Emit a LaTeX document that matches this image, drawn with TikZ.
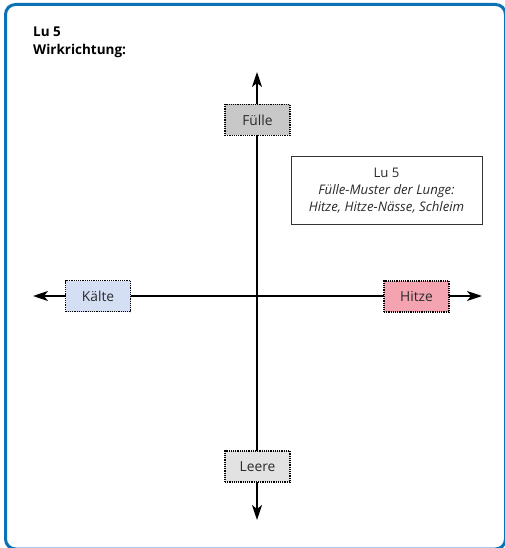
\documentclass[tikz,border=0pt]{standalone}
\usepackage{fontspec}
\setmainfont{Open Sans}
\usepackage{xcolor}
\usetikzlibrary{arrows.meta}
\definecolor{framblue}{HTML}{0B72B5}
\definecolor{fuellgray}{HTML}{C8C8C8}
\definecolor{leergray}{HTML}{E2E2E2}
\definecolor{kaltblue}{HTML}{D5DFF3}
\definecolor{hitzred}{HTML}{F4A3B1}
\definecolor{txtgray}{HTML}{2A2A2A}
\tikzset{
  richtung/.style={draw=black,densely dotted,line width=1.2pt,minimum width=65pt,minimum height=31pt,inner sep=0pt,
    font=\fontsize{13.8}{15}\selectfont,text=txtgray},
  achse/.style={line width=2pt,-{Stealth[length=15pt,width=10pt,inset=4pt]}}
}
\begin{document}
\begin{tikzpicture}[x=1pt,y=-1pt]
            \useasboundingbox (0,0) rectangle (504,548);
            \draw[framblue,line width=3pt,rounded corners=10pt] (5.5,4.5) rectangle (505.5,549);
            \node[anchor=north west,align=left,font=\bfseries\fontsize{13.5}{18}\selectfont,inner sep=0pt] (titel) at (33,27) {Lu 5\\Wirkrichtung:};
            % Achsen
            \coordinate (mitte) at (257,296);
            \coordinate (oben) at (257,72);
            \coordinate (unten) at (257,520);
            \coordinate (links) at (33,296);
            \coordinate (rechts) at (482,296);
            \draw[achse] (mitte) -- (oben);
            \draw[achse] (mitte) -- (unten);
            \draw[achse] (mitte) -- (links);
            \draw[achse] (mitte) -- (rechts);
            \node[richtung,fill=fuellgray] (fuelle) at (257.5,120) {Fülle};
            \node[richtung,fill=leergray] (leere) at (257.5,466.5) {Leere};
            \node[richtung,fill=kaltblue] (kaelte) at (98,296) {Kälte};
            \node[richtung,fill=hitzred] (hitze) at (416.5,296.5) {Hitze};
            \node[draw=black!80,line width=1pt,minimum width=191pt,minimum height=67pt,align=center,
                  font=\fontsize{13.2}{17}\selectfont,text=txtgray] (info) at (386.5,190.5)
                  {Lu 5\\\textit{Fülle-Muster der Lunge:}\\\textit{Hitze, Hitze-Nässe, Schleim}};
        \end{tikzpicture}
\end{document}
